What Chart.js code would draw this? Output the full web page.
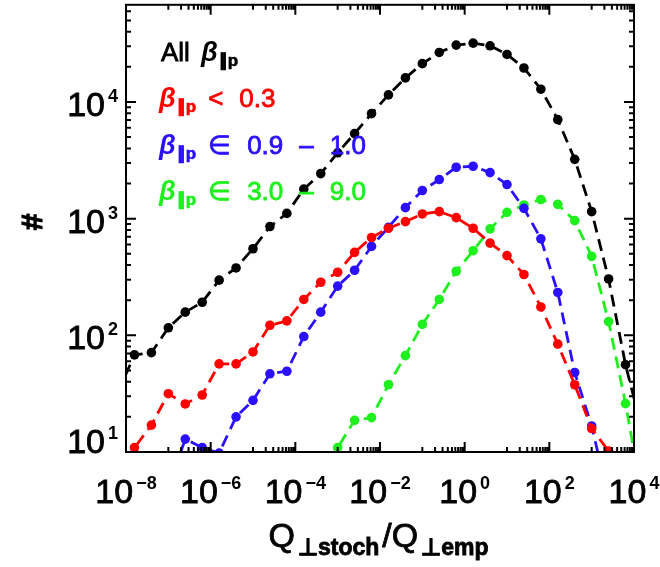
<!DOCTYPE html>
<html>
<head>
<meta charset="utf-8">
<script src="https://cdn.jsdelivr.net/npm/chart.js@4.4.0/dist/chart.umd.min.js"></script>
<style>
  html, body { margin: 0; padding: 0; background: #fff; }
  #wrap { width: 660px; height: 567px; }
</style>
</head>
<body>
<div id="wrap"><canvas id="chart" width="660" height="567"></canvas></div>
<script>
// bin centres, log10(Q_stoch / Q_emp)
const logQ = [-8.2, -7.8, -7.4, -7.0, -6.6, -6.2, -5.8, -5.4, -5.0, -4.6, -4.2, -3.8, -3.4, -3.0, -2.6, -2.2,
  -1.8, -1.4, -1.0, -0.6, -0.2, 0.2, 0.6, 1.0, 1.4, 1.8, 2.2, 2.6, 3.0, 3.4, 3.8, 4.2];

const allBeta = [32, 68, 71, 116, 158, 192, 297, 378, 552, 855, 1109, 1791, 2431, 3666, 5360, 7943,
  11500, 16070, 21280, 26550, 30690, 31900, 30270, 25530, 19540, 12860, 7050, 3220, 1148, 304, 56, 15];
const betaLow = [6, 10.9, 17, 31.6, 25.8, 30.8, 56.9, 56.9, 72, 122, 133, 203, 285, 347, 514, 689,
  827, 942, 1097, 1148, 1020, 827, 617, 482, 332, 175, 84, 37.7, 15.9, 10.2, 4, null];
const betaMid = [null, null, null, 5, 12.9, 10.9, 9.8, 20, 27.7, 46.8, 49.2, 97.6, 158, 264, 361, 578,
  843, 1242, 1742, 2162, 2756, 2812, 2479, 1959, 1225, 671, 233, 48, 16.7, 4, null, null];
const betaHigh = [null, null, null, null, null, null, null, null, null, null, null, null, 4, 10.9, 18.7, 19.7,
  37.7, 67, 124, 203, 354, 531, 817, 1132, 1309, 1459, 1324, 961, 475, 131, 26, 4];

const xMajorExp = [-8, -6, -4, -2, 0, 2, 4];
const yMajorExp = [1, 2, 3, 4];
const legendLabels = ['All', '< 0.3', '\u2208 0.9 \u2013 1.0', '\u2208 3.0 \u2013 9.0'];

const RED = '#ff0000';
const BLUE = '#2b10ff';
const GREEN = '#1ef01e';
const FAMILY = '"Liberation Sans", Arial, sans-serif';

function series(values, color) {
  return {
    data: logQ.map((e, i) => ({ x: Math.pow(10, e), y: values[i] })),
    borderColor: color,
    backgroundColor: color,
    borderWidth: 2.8,
    borderDash: [12, 7],
    pointRadius: 4.8,
    pointBorderWidth: 0,
    pointBackgroundColor: color,
    tension: 0,
  };
}

// IDL's vector font is a little heavier than Liberation, so stroke the text lightly too
function heavyText(ctx, text, x, y, weight) {
  ctx.fillText(text, x, y);
  ctx.lineWidth = weight;
  ctx.strokeStyle = ctx.fillStyle;
  ctx.strokeText(text, x, y);
}

// draws "10" with a raised exponent; align 'center' or 'right'
function drawPower(ctx, exp, px, baseline, align) {
  const sup = exp < 0 ? '\u2212' + (-exp) : String(exp);
  ctx.font = '34px ' + FAMILY;
  const wb = ctx.measureText('10').width;
  ctx.font = '18px ' + FAMILY;
  const ws = ctx.measureText(sup).width;
  const total = wb + 3 + ws;
  const left = align === 'center' ? px - total / 2 : px - total;
  ctx.font = '34px ' + FAMILY;
  heavyText(ctx, '10', left, baseline, 0.8);
  ctx.font = 'bold 18px ' + FAMILY;
  ctx.fillText(sup, left + wb + 3, baseline - 14);
}

const axesPlugin = {
  id: 'idlAxes',
  afterDatasetsDraw(chart) {
    const { ctx, chartArea: a, scales: { x, y } } = chart;
    ctx.save();
    ctx.strokeStyle = '#000';
    ctx.lineWidth = 2;
    ctx.strokeRect(a.left, a.top, a.right - a.left, a.bottom - a.top);

    ctx.beginPath();
    // x ticks: majors every two decades, minors only in the odd decade below each major
    xMajorExp.forEach((e) => {
      const px = x.getPixelForValue(Math.pow(10, e));
      ctx.moveTo(px, a.bottom); ctx.lineTo(px, a.bottom - 10);
      ctx.moveTo(px, a.top); ctx.lineTo(px, a.top + 10);
      if (e === xMajorExp[0]) return;
      for (let n = 1; n <= 9; n++) {
        const mx = x.getPixelForValue(n * Math.pow(10, e - 1));
        ctx.moveTo(mx, a.bottom); ctx.lineTo(mx, a.bottom - 5);
        ctx.moveTo(mx, a.top); ctx.lineTo(mx, a.top + 5);
      }
    });
    // y ticks: every decade, minors 2..9
    for (let e = 1; e <= 4; e++) {
      for (let n = 1; n <= 9; n++) {
        const v = n * Math.pow(10, e);
        if (v > y.max) break;
        const py = y.getPixelForValue(v);
        const len = n === 1 ? 10 : 5;
        ctx.moveTo(a.left, py); ctx.lineTo(a.left + len, py);
        ctx.moveTo(a.right, py); ctx.lineTo(a.right - len, py);
      }
    }
    ctx.stroke();

    ctx.fillStyle = '#000';
    ctx.textAlign = 'left';
    ctx.textBaseline = 'alphabetic';
    xMajorExp.forEach((e) => {
      drawPower(ctx, e, x.getPixelForValue(Math.pow(10, e)), a.bottom + 51, 'center');
    });
    yMajorExp.forEach((e) => {
      const py = y.getPixelForValue(Math.pow(10, e));
      drawPower(ctx, e, a.left - 8, Math.min(py + 14, a.bottom + 1), 'right');
    });

    // y title
    ctx.save();
    ctx.translate(34, 222);
    ctx.rotate(-Math.PI / 2);
    ctx.textAlign = 'center';
    ctx.textBaseline = 'middle';
    ctx.font = 'bold 30px ' + FAMILY;
    heavyText(ctx, '#', 0, 0, 1.2);
    ctx.restore();

    // x title: Q_perp,stoch / Q_perp,emp
    const parts = [
      ['Q', '34px ' + FAMILY, 0],
      ['\u22a5stoch', 'bold 23px ' + FAMILY, 8],
      ['/Q', '34px ' + FAMILY, 0],
      ['\u22a5emp', 'bold 23px ' + FAMILY, 8],
    ];
    let width = 0;
    parts.forEach((p) => { ctx.font = p[1]; width += ctx.measureText(p[0]).width + 3; });
    let tx = (a.left + a.right) / 2 - width / 2;
    parts.forEach((p) => {
      ctx.font = p[1];
      heavyText(ctx, p[0], tx, 547 + p[2], 0.8);
      tx += ctx.measureText(p[0]).width + 3;
    });

    // legend
    const colors = ['#000', RED, BLUE, GREEN];
    const baselines = [61, 107, 154, 200];
    legendLabels.forEach((label, i) => {
      ctx.fillStyle = colors[i];
      let lx = 159;
      if (i === 0) {
        ctx.font = '26px ' + FAMILY;
        heavyText(ctx, label, 161, baselines[i], 0.8);
        lx = 201;
      }
      ctx.font = 'italic bold 27px ' + FAMILY;
      ctx.fillText('\u03b2', lx, baselines[i]);
      lx += ctx.measureText('\u03b2').width + 1;
      ctx.font = 'bold 17px ' + FAMILY;
      heavyText(ctx, '\u2225p', lx, baselines[i] + 5, 0.6);
      lx += ctx.measureText('\u2225p').width + 12;
      if (i === 0) return;
      ctx.font = '26px ' + FAMILY;
      label.split(' ').forEach((word) => {
        heavyText(ctx, word, lx, baselines[i], 0.8);
        lx += ctx.measureText(word).width + 16;
      });
    });
    ctx.restore();
  },
};

new Chart(document.getElementById('chart'), {
  type: 'line',
  data: {
    datasets: [
      series(allBeta, '#000000'),
      series(betaLow, RED),
      series(betaMid, BLUE),
      series(betaHigh, GREEN),
    ],
  },
  options: {
    responsive: false,
    animation: false,
    devicePixelRatio: 1,
    layout: { padding: { left: 126, right: 26, top: 2, bottom: 115 } },
    plugins: { legend: { display: false }, tooltip: { enabled: false } },
    scales: {
      x: { type: 'logarithmic', min: 1e-8, max: 1e4, display: false },
      y: { type: 'logarithmic', min: 10, max: 68000, display: false },
    },
  },
  plugins: [axesPlugin],
});
</script>
</body>
</html>
